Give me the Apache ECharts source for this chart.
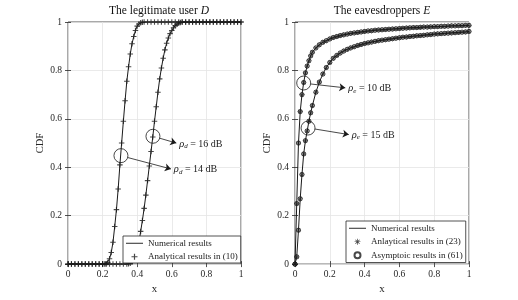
<!DOCTYPE html>
<html><head><meta charset="utf-8">
<script src="https://cdn.jsdelivr.net/npm/echarts@6/dist/echarts.min.js"></script>
<style>html,body{margin:0;padding:0;background:#fff}#c{width:518px;height:300px}</style>
</head><body><div id="c"></div>
<script>
// ---------- data ----------
const ticks = [0, 0.2, 0.4, 0.6, 0.8, 1];

// Legitimate user D, rho_d = 14 dB
const dX14 = [0,0.02,0.04,0.06,0.08,0.1,0.12,0.14,0.16,0.18,0.2,
  0.21,0.22,0.23,0.24,0.25,0.26,0.27,0.28,0.29,0.3,0.31,0.32,0.33,0.34,0.35,0.36,0.37,0.38,0.39,0.4,0.41,0.42,0.43,0.44,
  0.46,0.48,0.5,0.52,0.54,0.56,0.58,0.6,0.62,0.64,0.66,0.68,0.7,0.72,0.74,0.76,0.78,0.8,0.82,0.84,0.86,0.88,0.9,0.92,0.94,0.96,0.98,1];
const dY14 = [0,0,0,0,0,0,0,0,0,0,0,
  0,0.001,0.007,0.022,0.048,0.09,0.155,0.225,0.31,0.41,0.5,0.59,0.675,0.755,0.815,0.868,0.91,0.94,0.965,0.983,0.992,0.997,0.999,1,
  1,1,1,1,1,1,1,1,1,1,1,1,1,1,1,1,1,1,1,1,1,1,1,1,1,1,1,1];

// Legitimate user D, rho_d = 16 dB
const dX16 = [0,0.02,0.04,0.06,0.08,0.1,0.12,0.14,0.16,0.18,0.2,0.22,0.24,0.26,0.28,0.3,0.32,0.34,
  0.35,0.36,0.37,0.38,0.39,0.4,0.41,0.42,0.43,0.44,0.45,0.46,0.47,0.48,0.49,0.5,0.51,0.52,0.53,0.54,0.55,0.56,0.57,0.58,0.59,0.6,0.61,0.62,0.63,0.64,0.65,0.66,
  0.68,0.7,0.72,0.74,0.76,0.78,0.8,0.82,0.84,0.86,0.88,0.9,0.92,0.94,0.96,0.98,1];
const dY16 = [0,0,0,0,0,0,0,0,0,0,0,0,0,0,0,0,0,0,
  0.001,0.003,0.008,0.018,0.035,0.058,0.09,0.135,0.18,0.23,0.285,0.345,0.405,0.465,0.525,0.59,0.65,0.71,0.765,0.81,0.85,0.885,0.912,0.934,0.952,0.965,0.976,0.985,0.991,0.995,0.998,1,
  1,1,1,1,1,1,1,1,1,1,1,1,1,1,1,1,1];

// Eavesdroppers E
const eX = [0,0.01,0.02,0.03,0.04,0.05,0.06,0.07,0.08,0.09,0.1,
  0.12,0.14,0.16,0.18,0.2,0.22,0.24,0.26,0.28,0.3,0.32,0.34,0.36,0.38,0.4,0.42,0.44,0.46,0.48,0.5,
  0.52,0.54,0.56,0.58,0.6,0.62,0.64,0.66,0.68,0.7,0.72,0.74,0.76,0.78,0.8,0.82,0.84,0.86,0.88,0.9,0.92,0.94,0.96,0.98,1];
const eY10 = [0,0.25,0.5,0.63,0.7,0.75,0.79,0.818,0.84,0.86,0.875,
  0.893,0.906,0.916,0.923,0.93,0.936,0.94,0.944,0.947,0.95,0.953,0.955,0.957,0.959,0.961,0.963,0.964,0.966,0.967,0.968,
  0.969,0.97,0.971,0.972,0.973,0.974,0.975,0.976,0.977,0.977,0.978,0.979,0.979,0.98,0.981,0.981,0.982,0.982,0.983,0.984,0.984,0.985,0.985,0.986,0.986];
const eY15 = [0,0.03,0.14,0.27,0.37,0.455,0.51,0.55,0.59,0.625,0.655,
  0.71,0.752,0.785,0.812,0.833,0.85,0.862,0.872,0.88,0.887,0.893,0.898,0.903,0.907,0.911,0.914,0.917,0.92,0.923,0.925,
  0.927,0.929,0.931,0.933,0.935,0.937,0.938,0.94,0.941,0.943,0.944,0.945,0.947,0.948,0.95,0.951,0.952,0.953,0.954,0.955,0.956,0.957,0.958,0.959,0.961];

// annotation anchors [circleX, circleY, arrowStartX, arrowStartY, arrowEndX, arrowEndY]
const noteD16 = [0.491, 0.528, 0.530, 0.520, 0.626, 0.500];
const noteD14 = [0.306, 0.448, 0.346, 0.440, 0.595, 0.393];
const noteE10 = [0.050, 0.748, 0.090, 0.744, 0.289, 0.728];
const noteE15 = [0.075, 0.562, 0.114, 0.558, 0.309, 0.535];
const labelsD = [['d', '16'], ['d', '14']];
const labelsE = [['e', '10'], ['e', '15']];

// ---------- chart ----------
const pairs = (xs, ys) => xs.map((x, i) => [x, ys[i]]);
const serif = '"Liberation Serif", "DejaVu Serif", serif';
const INK = '#1a1a1a';
const PLUS = 'path://M4,0H6V4H10V6H6V10H4V6H0V4H4Z';
const STAR = 'path://M4.4,0H5.6V10H4.4Z M0,4.4H10V5.6H0Z M1.06,1.9L1.9,1.06L8.94,8.1L8.1,8.94Z M8.1,1.06L8.94,1.9L1.9,8.94L1.06,8.1Z';
const LINEICON = 'path://M0,0H20V1.1H0Z';

function xAx(g, pos) {
  const main = pos === 'bottom';
  return {
    gridIndex: g, type: 'value', min: 0, max: 1, interval: 0.2, position: pos,
    axisLine: { show: false },
    axisTick: { show: true, inside: true, length: 3, lineStyle: { color: '#262626', width: 0.8 } },
    axisLabel: { show: main, fontFamily: serif, fontSize: 9.5, color: '#262626', margin: 5 },
    splitLine: { show: main, lineStyle: { color: '#e4e4e4', width: 0.8 } },
    name: main ? 'x' : '', nameLocation: 'middle', nameGap: 17,
    nameTextStyle: { fontFamily: serif, fontSize: 11, color: '#262626' }
  };
}
function yAx(g, pos) {
  const main = pos === 'left';
  return {
    gridIndex: g, type: 'value', min: 0, max: 1, interval: 0.2, position: pos,
    axisLine: { show: false },
    axisTick: { show: true, inside: true, length: 3, lineStyle: { color: '#262626', width: 0.8 } },
    axisLabel: { show: main, fontFamily: serif, fontSize: 9.5, color: '#262626', margin: 6 },
    splitLine: { show: main, lineStyle: { color: '#e4e4e4', width: 0.8 } },
    name: main ? 'CDF' : '', nameLocation: 'middle', nameGap: 18, nameRotate: 90,
    nameTextStyle: { fontFamily: serif, fontSize: 10.5, color: '#262626' }
  };
}
const richNote = {
  r: { fontFamily: serif, fontStyle: 'italic', fontSize: 10.5, color: INK },
  s: { fontFamily: serif, fontStyle: 'italic', fontSize: 7, color: INK, padding: [5, 0, 0, 0] },
  t: { fontFamily: serif, fontSize: 10, color: INK }
};
function marks(notes, labels) {
  return {
    markPoint: {
      silent: true, symbol: 'circle', symbolSize: 14,
      itemStyle: { color: 'rgba(0,0,0,0)', borderColor: INK, borderWidth: 0.8 },
      label: { show: false },
      data: notes.map(n => ({ coord: [n[0], n[1]] }))
    },
    markLine: {
      silent: true, symbol: ['none', 'arrow'], symbolSize: 6, precision: 3,
      lineStyle: { color: INK, width: 0.8, type: 'solid' },
      label: {
        show: true, position: 'end', distance: 3,
        formatter: p => '{r|ρ}{s|' + labels[p.dataIndex][0] + '}{t| = ' + labels[p.dataIndex][1] + ' dB}',
        rich: richNote
      },
      data: notes.map(n => [{ coord: [n[2], n[3]] }, { coord: [n[4], n[5]] }])
    }
  };
}
const lineBase = (xi, data) => ({
  type: 'line', name: 'Numerical results', xAxisIndex: xi, yAxisIndex: xi, data,
  symbol: 'none', showSymbol: false, lineStyle: { color: INK, width: 1 }, itemStyle: { color: INK },
  z: 3, silent: true
});
const legendCommon = {
  orient: 'vertical', itemWidth: 17, itemHeight: 6, itemGap: 1,
  backgroundColor: '#fff', borderColor: '#262626', borderWidth: 0.8, borderRadius: 0,
  textStyle: { fontFamily: serif, fontSize: 9, color: INK, lineHeight: 12.5 },
  selectedMode: false, z: 10
};
const titleRich = {
  a: { fontFamily: serif, fontSize: 11.5, fontWeight: 'normal', color: '#111' },
  b: { fontFamily: serif, fontSize: 11.5, fontWeight: 'normal', fontStyle: 'italic', color: '#111' }
};

const option = {
  animation: false,
  backgroundColor: '#fff',
  title: [
    { text: '{a|The legitimate user }{b|D}', left: 159, top: 5, textAlign: 'center', padding: 0,
      textStyle: { fontWeight: 'normal', rich: titleRich } },
    { text: '{a|The eavesdroppers }{b|E}', left: 382, top: 5, textAlign: 'center', padding: 0,
      textStyle: { fontWeight: 'normal', rich: titleRich } }
  ],
  grid: [
    { left: 68, top: 22, width: 173, height: 245, show: true, borderColor: '#262626', borderWidth: 0.8, backgroundColor: 'rgba(0,0,0,0)' },
    { left: 295, top: 22, width: 174, height: 245, show: true, borderColor: '#262626', borderWidth: 0.8, backgroundColor: 'rgba(0,0,0,0)' }
  ],
  xAxis: [xAx(0, 'bottom'), xAx(0, 'top'), xAx(1, 'bottom'), xAx(1, 'top')],
  yAxis: [yAx(0, 'left'), yAx(0, 'right'), yAx(1, 'left'), yAx(1, 'right')],
  legend: [
    Object.assign({}, legendCommon, { left: 123, top: 236, padding: [1, 3, 0, 3],
      data: [{ name: 'Numerical results', icon: LINEICON }, 'Analytical results in (10)'] }),
    Object.assign({}, legendCommon, { left: 346, top: 221, padding: [1, 3, 1, 3],
      data: [{ name: 'Numerical results', icon: LINEICON }, 'Anlaytical results in (23)', 'Asymptoic results in (61)'] })
  ],
  series: [
    Object.assign(lineBase(0, pairs(dX14, dY14)), marks([noteD16, noteD14], labelsD)),
    lineBase(0, pairs(dX16, dY16)),
    { type: 'scatter', name: 'Analytical results in (10)', xAxisIndex: 0, yAxisIndex: 0,
      data: pairs(dX14, dY14).concat(pairs(dX16, dY16)),
      symbol: PLUS, symbolSize: 5.5, itemStyle: { color: INK }, z: 4, silent: true },
    Object.assign(lineBase(2, pairs(eX, eY10)), marks([noteE10, noteE15], labelsE)),
    lineBase(2, pairs(eX, eY15)),
    { type: 'scatter', name: 'Asymptoic results in (61)', xAxisIndex: 2, yAxisIndex: 2,
      data: pairs(eX, eY10).concat(pairs(eX, eY15)),
      symbol: 'circle', symbolSize: 4.2, itemStyle: { color: 'rgba(0,0,0,0)', borderColor: '#1a1a1a', borderWidth: 1 }, z: 4, silent: true },
    { type: 'scatter', name: 'Anlaytical results in (23)', xAxisIndex: 2, yAxisIndex: 2,
      data: pairs(eX, eY10).concat(pairs(eX, eY15)),
      symbol: STAR, symbolSize: 5, itemStyle: { color: '#1a1a1a' }, z: 5, silent: true }
  ]
};
const chart = echarts.init(document.getElementById('c'), null, { renderer: 'canvas' });
chart.setOption(option);
</script></body></html>
